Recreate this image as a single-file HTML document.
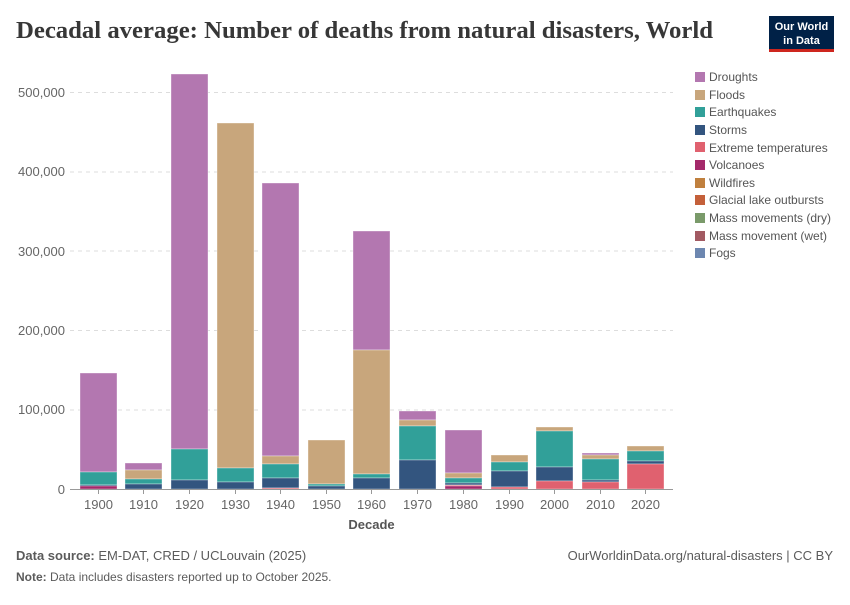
<!DOCTYPE html><html><head><style>body{margin:0;background:#fff}svg text{font-family:"Liberation Sans",sans-serif}</style></head><body>
<svg width="850" height="600" xmlns="http://www.w3.org/2000/svg">
<text x="16" y="38" style="font-family:'Liberation Serif',serif" font-size="24" font-weight="bold" fill="#373737" textLength="697" lengthAdjust="spacingAndGlyphs">Decadal average: Number of deaths from natural disasters, World</text>
<rect x="769" y="16" width="65" height="33" fill="#002147"/><rect x="769" y="49" width="65" height="3" fill="#ce261e"/>
<text x="801.5" y="30" font-size="11" font-weight="bold" fill="#fff" text-anchor="middle">Our World</text><text x="801.5" y="44" font-size="11" font-weight="bold" fill="#fff" text-anchor="middle">in Data</text>
<g stroke="#ddd" stroke-dasharray="4,4"><line x1="70" x2="673" y1="92.5" y2="92.5"/><line x1="70" x2="673" y1="172" y2="172"/><line x1="70" x2="673" y1="251" y2="251"/><line x1="70" x2="673" y1="330.5" y2="330.5"/><line x1="70" x2="673" y1="410" y2="410"/></g>
<g font-size="13" fill="#666" text-anchor="end"><text x="65" y="97">500,000</text><text x="65" y="176">400,000</text><text x="65" y="256">300,000</text><text x="65" y="335">200,000</text><text x="65" y="414">100,000</text><text x="65" y="494">0</text></g>
<g stroke="#fff" stroke-opacity="0.5" stroke-width="0.7">
<rect x="80" y="373" width="37" height="99" fill="#b377b0"/><rect x="80" y="472" width="37" height="13" fill="#31a099"/><rect x="80" y="485" width="37" height="1.5" fill="#33557f"/><rect x="80" y="486" width="37" height="3" fill="#a4296a"/>
<rect x="125" y="463" width="37" height="7" fill="#b377b0"/><rect x="125" y="470" width="37" height="9" fill="#c8a67c"/><rect x="125" y="479" width="37" height="5" fill="#31a099"/><rect x="125" y="484" width="37" height="5" fill="#33557f"/>
<rect x="171" y="74" width="37" height="375" fill="#b377b0"/><rect x="171" y="449" width="37" height="31" fill="#31a099"/><rect x="171" y="480" width="37" height="9" fill="#33557f"/>
<rect x="217" y="123" width="37" height="345" fill="#c8a67c"/><rect x="217" y="468" width="37" height="14" fill="#31a099"/><rect x="217" y="482" width="37" height="7" fill="#33557f"/>
<rect x="262" y="183" width="37" height="273" fill="#b377b0"/><rect x="262" y="456" width="37" height="8" fill="#c8a67c"/><rect x="262" y="464" width="37" height="14" fill="#31a099"/><rect x="262" y="478" width="37" height="10" fill="#33557f"/><rect x="262" y="488" width="37" height="1" fill="#e0616f"/>
<rect x="308" y="440" width="37" height="44" fill="#c8a67c"/><rect x="308" y="484" width="37" height="2" fill="#31a099"/><rect x="308" y="486" width="37" height="3" fill="#33557f"/>
<rect x="353" y="231" width="37" height="119" fill="#b377b0"/><rect x="353" y="350" width="37" height="124" fill="#c8a67c"/><rect x="353" y="474" width="37" height="4" fill="#31a099"/><rect x="353" y="478" width="37" height="11" fill="#33557f"/>
<rect x="399" y="411" width="37" height="9" fill="#b377b0"/><rect x="399" y="420" width="37" height="6" fill="#c8a67c"/><rect x="399" y="426" width="37" height="34" fill="#31a099"/><rect x="399" y="460" width="37" height="29" fill="#33557f"/>
<rect x="445" y="430" width="37" height="43" fill="#b377b0"/><rect x="445" y="473" width="37" height="5" fill="#c8a67c"/><rect x="445" y="478" width="37" height="5" fill="#31a099"/><rect x="445" y="483" width="37" height="2" fill="#33557f"/><rect x="445" y="485" width="37" height="1" fill="#e0616f"/><rect x="445" y="486" width="37" height="3" fill="#a4296a"/>
<rect x="491" y="455" width="37" height="7" fill="#c8a67c"/><rect x="491" y="462" width="37" height="9" fill="#31a099"/><rect x="491" y="471" width="37" height="16" fill="#33557f"/><rect x="491" y="487" width="37" height="2" fill="#e0616f"/>
<rect x="536" y="427" width="37" height="4" fill="#c8a67c"/><rect x="536" y="431" width="37" height="36" fill="#31a099"/><rect x="536" y="467" width="37" height="14" fill="#33557f"/><rect x="536" y="481" width="37" height="8" fill="#e0616f"/>
<rect x="582" y="453" width="37" height="2" fill="#b377b0"/><rect x="582" y="455" width="37" height="4" fill="#c8a67c"/><rect x="582" y="459" width="37" height="21" fill="#31a099"/><rect x="582" y="480" width="37" height="2" fill="#33557f"/><rect x="582" y="482" width="37" height="7" fill="#e0616f"/>
<rect x="627" y="446" width="37" height="5" fill="#c8a67c"/><rect x="627" y="451" width="37" height="10" fill="#31a099"/><rect x="627" y="461" width="37" height="3" fill="#33557f"/><rect x="627" y="464" width="37" height="25" fill="#e0616f"/>
</g>
<line x1="70" x2="673" y1="489.5" y2="489.5" stroke="#999"/>
<g stroke="#999"><line x1="98.5" x2="98.5" y1="489" y2="494"/><line x1="143.5" x2="143.5" y1="489" y2="494"/><line x1="189.5" x2="189.5" y1="489" y2="494"/><line x1="235.5" x2="235.5" y1="489" y2="494"/><line x1="280.5" x2="280.5" y1="489" y2="494"/><line x1="326.5" x2="326.5" y1="489" y2="494"/><line x1="371.5" x2="371.5" y1="489" y2="494"/><line x1="417.5" x2="417.5" y1="489" y2="494"/><line x1="463.5" x2="463.5" y1="489" y2="494"/><line x1="509.5" x2="509.5" y1="489" y2="494"/><line x1="554.5" x2="554.5" y1="489" y2="494"/><line x1="600.5" x2="600.5" y1="489" y2="494"/><line x1="645.5" x2="645.5" y1="489" y2="494"/></g>
<g font-size="13" fill="#666" text-anchor="middle"><text x="98.5" y="509">1900</text><text x="143.5" y="509">1910</text><text x="189.5" y="509">1920</text><text x="235.5" y="509">1930</text><text x="280.5" y="509">1940</text><text x="326.5" y="509">1950</text><text x="371.5" y="509">1960</text><text x="417.5" y="509">1970</text><text x="463.5" y="509">1980</text><text x="509.5" y="509">1990</text><text x="554.5" y="509">2000</text><text x="600.5" y="509">2010</text><text x="645.5" y="509">2020</text></g>
<text x="371.5" y="529" font-size="13" font-weight="bold" fill="#555" text-anchor="middle">Decade</text>
<g font-size="12" fill="#555">
<rect x="695" y="72" width="10" height="10" fill="#b377b0"/><text x="709" y="81">Droughts</text>
<rect x="695" y="90" width="10" height="10" fill="#c8a67c"/><text x="709" y="99">Floods</text>
<rect x="695" y="107" width="10" height="10" fill="#31a099"/><text x="709" y="116">Earthquakes</text>
<rect x="695" y="125" width="10" height="10" fill="#33557f"/><text x="709" y="134">Storms</text>
<rect x="695" y="142" width="10" height="10" fill="#e0616f"/><text x="709" y="152">Extreme temperatures</text>
<rect x="695" y="160" width="10" height="10" fill="#a4296a"/><text x="709" y="169">Volcanoes</text>
<rect x="695" y="178" width="10" height="10" fill="#c0803e"/><text x="709" y="187">Wildfires</text>
<rect x="695" y="195" width="10" height="10" fill="#c4603a"/><text x="709" y="204">Glacial lake outbursts</text>
<rect x="695" y="213" width="10" height="10" fill="#7a9a6a"/><text x="709" y="222">Mass movements (dry)</text>
<rect x="695" y="231" width="10" height="10" fill="#a25a62"/><text x="709" y="240">Mass movement (wet)</text>
<rect x="695" y="248" width="10" height="10" fill="#6d87b0"/><text x="709" y="257">Fogs</text>
</g>
<text x="16" y="560" font-size="13" fill="#5b5b5b"><tspan font-weight="bold">Data source:</tspan> EM-DAT, CRED / UCLouvain (2025)</text>
<text x="833" y="560" font-size="13" fill="#5b5b5b" text-anchor="end">OurWorldinData.org/natural-disasters | CC BY</text>
<text x="16" y="581" font-size="12" fill="#5b5b5b"><tspan font-weight="bold">Note:</tspan> Data includes disasters reported up to October 2025.</text>
</svg></body></html>
